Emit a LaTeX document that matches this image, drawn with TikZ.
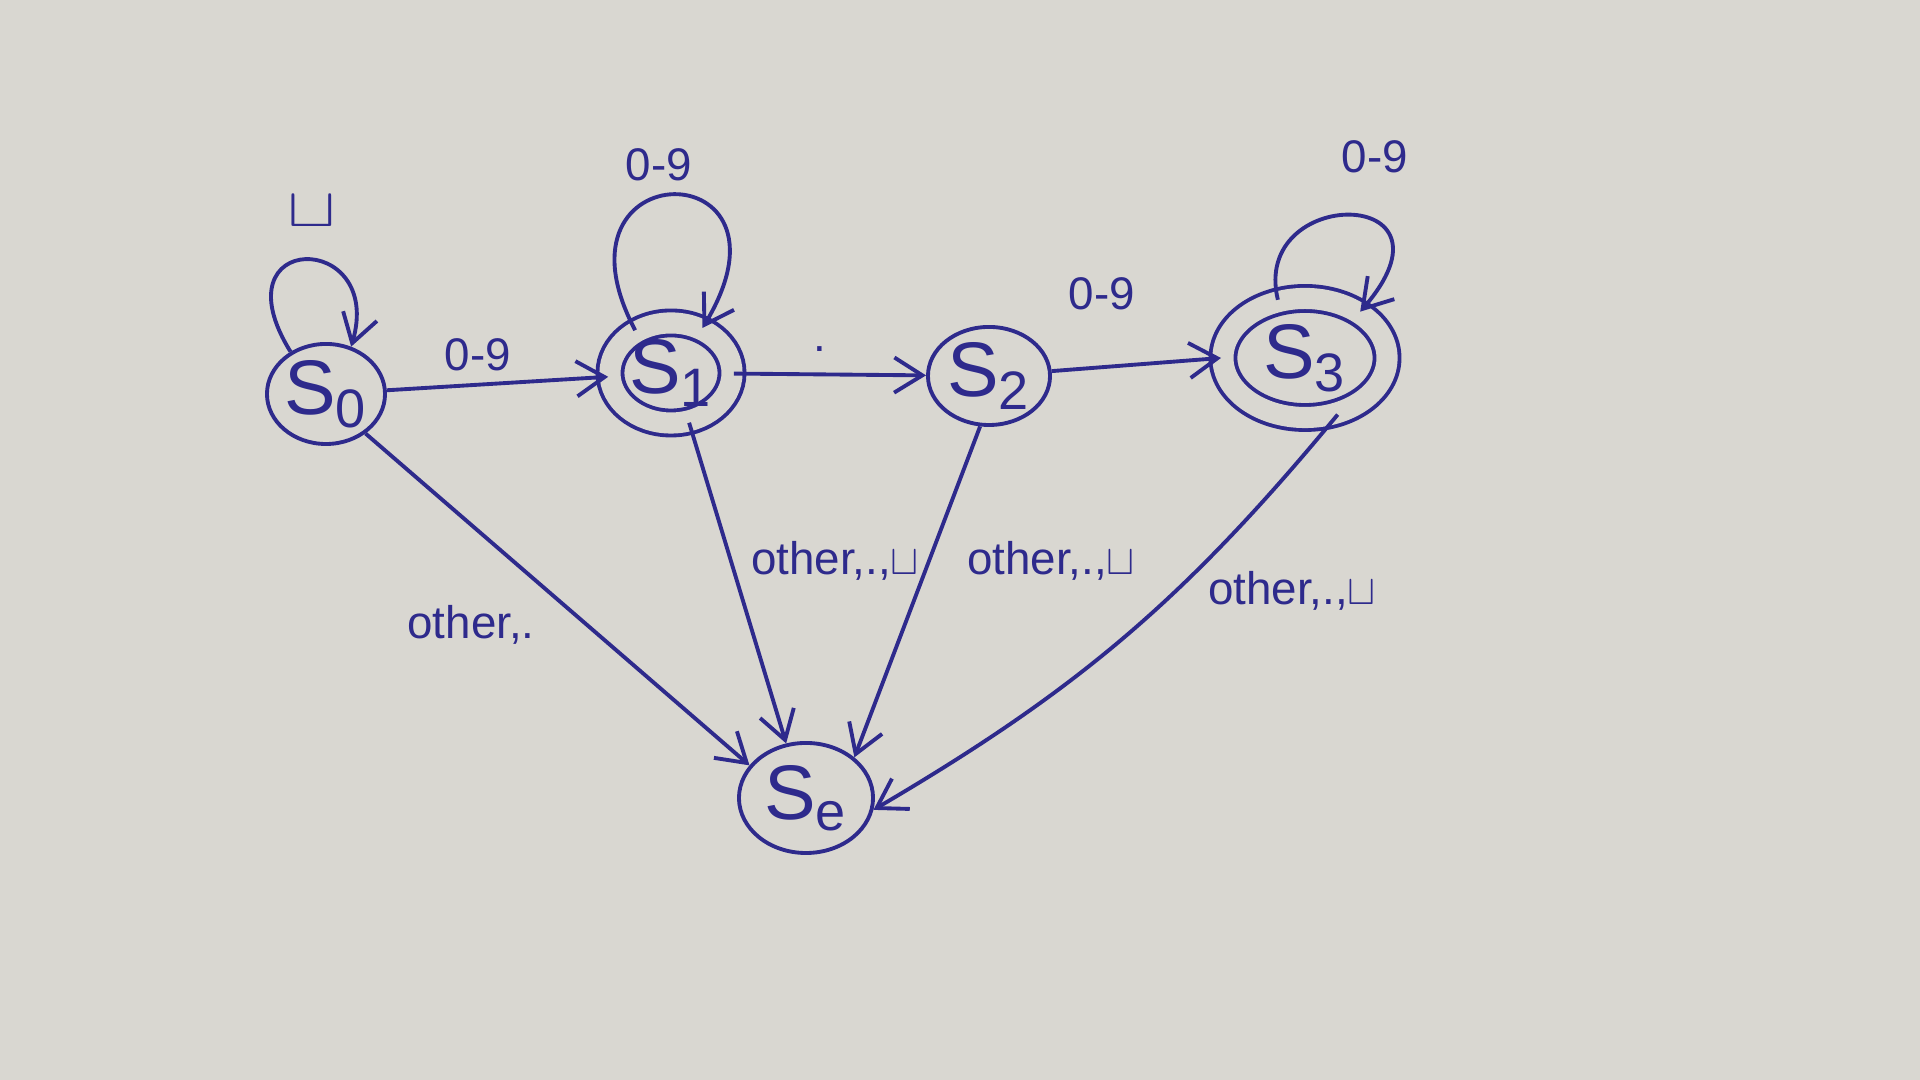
\documentclass[tikz,border=0pt]{standalone}
\usepackage{fontspec}
\setmainfont{Liberation Sans}
\usetikzlibrary{arrows.meta,shapes.geometric}
\definecolor{ink}{HTML}{2E2A8C}
\definecolor{paper}{HTML}{D9D7D1}
\begin{document}
\begin{tikzpicture}[x=0.01cm,y=0.01cm,
  ink line/.style={draw=ink,line width=1.1pt},
  state/.style={ink line,ellipse,inner sep=0pt,text=ink,font=\fontsize{22}{24}\selectfont},
  accept/.style={state,double=paper,double distance=6pt},
  edge/.style={ink line,-{Straight Barb[length=8pt,width=10pt]}},
  lbl/.style={text=ink,font=\fontsize{13}{15}\selectfont,inner sep=1pt},
  sym/.style={lbl,font=\fontsize{20}{22}\selectfont}]
\fill[paper] (0,0) rectangle (1920,1080);
\useasboundingbox (0,0) rectangle (1920,1080);
\node[state,minimum width=1.18cm,minimum height=1.0cm] (s0) at (326,686) {S\textsubscript{0}};
\node[accept,minimum width=1.22cm,minimum height=1.0cm] (s1) at (671,707) {S\textsubscript{1}};
\node[state,minimum width=1.22cm,minimum height=0.98cm] (s2) at (989,704) {S\textsubscript{2}};
\node[accept,minimum width=1.64cm,minimum height=1.19cm] (s3) at (1305,722) {S\textsubscript{3}};
\node[state,minimum width=1.34cm,minimum height=1.10cm] (se) at (806,282) {S\textsubscript{e}};
% loops
\draw[edge] (s0.130) .. controls (215,850) and (385,850) .. (s0.62);
\draw[edge] (s1.130) .. controls (540,930) and (810,930) .. (s1.55);
\draw[edge] (s3.115) .. controls (1250,895) and (1470,895) .. (s3.40);
\node[sym,yscale=0.75] (l00) at (312,869) {$\sqcup$};
\node[lbl] (l11) at (659,915) {0-9};
\node[lbl] (l33) at (1375,923) {0-9};
% transitions
\draw[edge] (s0) -- (s1);
\node[lbl] (l01) at (478,725) {0-9};
\draw[edge] (s1) -- (s2);
\node[lbl] (l12) at (820,731) {.};
\draw[edge] (s2) -- (s3.west);
\node[lbl] (l23) at (1102,786) {0-9};
\draw[edge] (s0.-45) -- (se.150);
\node[lbl] (l0e) at (471,455) {other,.};
\draw[edge] (s1.-70) -- (se.110);
\node[lbl] (l1e) at (835,519) {other,.,$\sqcup$};
\draw[edge] (s2.-100) -- (se.40);
\node[lbl] (l2e) at (1051,519) {other,.,$\sqcup$};
\draw[edge] (s3.-60) to[bend left=10] (se.-10);
\node[lbl] (l3e) at (1292,489) {other,.,$\sqcup$};
\end{tikzpicture}
\end{document}
